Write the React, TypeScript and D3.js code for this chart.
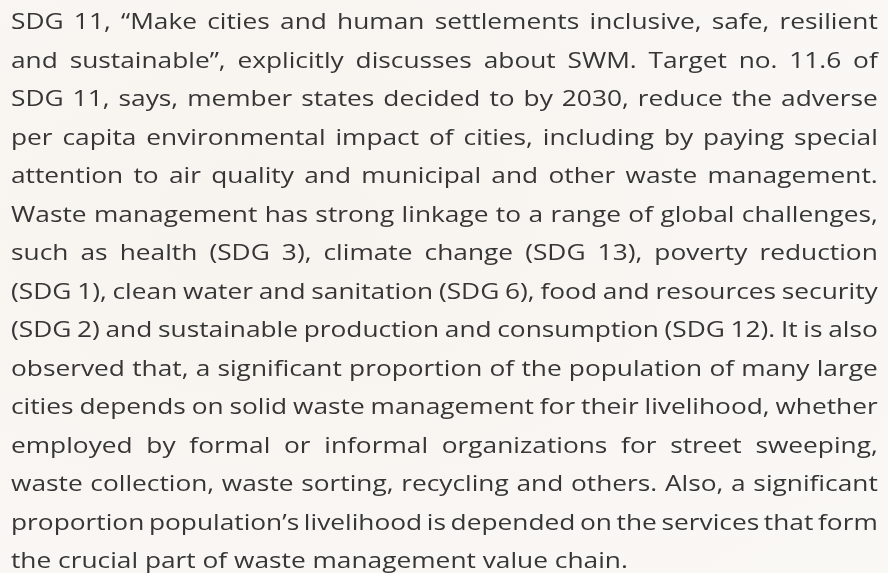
import React, { useMemo } from "react";
import * as d3 from "d3";

const lines: string[] = [
  "SDG 11, \u201cMake cities and human settlements inclusive, safe, resilient",
  "and sustainable\u201d, explicitly discusses about SWM. Target no. 11.6 of",
  "SDG 11, says, member states decided to by 2030, reduce the adverse",
  "per capita environmental impact of cities, including by paying special",
  "attention to air quality and municipal and other waste management.",
  "Waste management has strong linkage to a range of global challenges,",
  "such as health (SDG 3), climate change (SDG 13), poverty reduction",
  "(SDG 1), clean water and sanitation (SDG 6), food and resources security",
  "(SDG 2) and sustainable production and consumption (SDG 12). It is also",
  "observed that, a significant proportion of the population of many large",
  "cities depends on solid waste management for their livelihood, whether",
  "employed by formal or informal organizations for street sweeping,",
  "waste collection, waste sorting, recycling and others. Also, a significant",
  "proportion population\u2019s livelihood is depended on the services that form",
  "the crucial part of waste management value chain.",
];
const justified: boolean[] = lines.map((_, i) => i < lines.length - 1);
const lastLineWidth = 617;

const W = 888;
const H = 573;
const FONT = "'Open Sans', sans-serif";
const FS = 21.5;

export default function App() {
  const y = d3.scaleLinear().domain([0, lines.length - 1]).range([29, 568]);
  const left = 11;
  const right = 878;

  const layout = useMemo(() => {
    const c = document.createElement("canvas").getContext("2d")!;
    c.font = `${FS}px 'Open Sans'`;
    const natLast = c.measureText(lines[lines.length - 1]).width;
    const sx = lastLineWidth / natLast;
    return lines.map((t, i) => {
      const nat = c.measureText(t).width * sx;
      const spaces = (t.match(/ /g) || []).length;
      const ws = justified[i] && spaces > 0 ? (right - left - nat) / spaces / sx : 0;
      return { t, ws, sx };
    });
  }, []);

  return (
    <svg width={W} height={H} style={{ position: "fixed", left: 0, top: 0 }}>
      <defs>
        <radialGradient id="bg" cx="0.3" cy="0.4" r="0.9">
          <stop offset="0" stopColor="#f7f4ef" />
          <stop offset="1" stopColor="#faf8f5" />
        </radialGradient>
      </defs>
      <rect width={W} height={H} fill="url(#bg)" />
      {layout.map((l, i) => (
        <text
          key={i}
          transform={`translate(${left},${y(i)}) scale(${l.sx},1)`}
          fontFamily={FONT}
          fontSize={FS}
          fill="#363636"
          wordSpacing={l.ws}
        >
          {l.t}
        </text>
      ))}
    </svg>
  );
}
